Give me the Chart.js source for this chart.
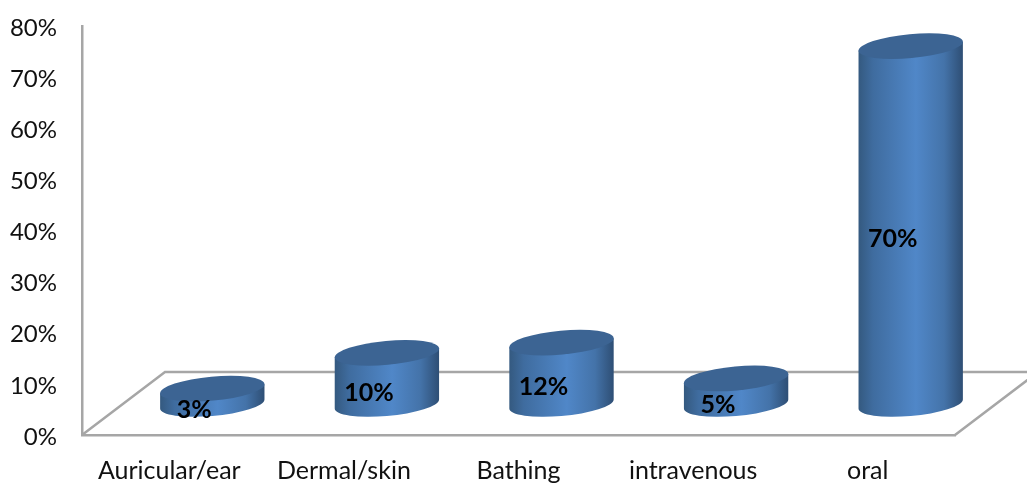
<!DOCTYPE html>
<html>
<head>
<meta charset="utf-8">
<title>Route of administration</title>
<script src="https://cdn.jsdelivr.net/npm/chart.js@4/dist/chart.umd.min.js"></script>
<style>
  html, body { margin: 0; padding: 0; background: #fff; }
  #wrap { width: 1027px; height: 483px; }
</style>
</head>
<body>
<div id="wrap"><canvas id="routes" width="1027" height="483"></canvas></div>
<script>
const categories = ["Auricular/ear", "Dermal/skin", "Bathing", "intravenous", "oral"];
const percentValues = [3, 10, 12, 5, 70];
const yTickStep = 10;
const yMax = 80;

const LINE_GRAY = "#a6a6a6";
const FONT = "Lato, Carlito, sans-serif";

// floor of the fake 3D box, and the bars sit half way back on it
const floorDx = 83, floorDy = 63;
const barDx = 43, barDy = 31;
const tilt = -5.2 * Math.PI / 180;

// ---------- FLOOR LINES ----------
const floorPlugin = {
  id: "floor",
  beforeDatasetsDraw(chart) {
    const ctx = chart.ctx, a = chart.chartArea;
    ctx.save();
    ctx.strokeStyle = LINE_GRAY;
    ctx.lineWidth = 2.5;
    ctx.beginPath();
    ctx.moveTo(a.left, a.bottom);
    ctx.lineTo(a.left + floorDx, a.bottom - floorDy);
    ctx.lineTo(chart.width, a.bottom - floorDy);
    ctx.moveTo(a.right, a.bottom);
    ctx.lineTo(a.right + floorDx, a.bottom - floorDy);
    ctx.stroke();
    ctx.restore();
  }
};

// ---------- CYLINDERS ----------
function drawCylinder(ctx, bar) {
  const cx = bar.x + barDx;
  const topY = bar.y - barDy;
  const baseY = bar.base - barDy;
  const rx = bar.width / 2;
  const ry = 12;
  const t0 = Math.atan(-(ry / rx) * Math.tan(tilt));
  const ex = rx * Math.cos(t0) * Math.cos(tilt) - ry * Math.sin(t0) * Math.sin(tilt);
  const ey = rx * Math.cos(t0) * Math.sin(tilt) + ry * Math.sin(t0) * Math.cos(tilt);

  const grad = ctx.createLinearGradient(cx - rx, 0, cx + rx, 0);
  grad.addColorStop(0, "#34597f");
  grad.addColorStop(0.14, "#3f6c9f");
  grad.addColorStop(0.55, "#5087c8");
  grad.addColorStop(0.82, "#4473a9");
  grad.addColorStop(1, "#2e4e74");

  ctx.beginPath();
  ctx.ellipse(cx, baseY, rx, ry, tilt, t0, t0 + Math.PI);
  ctx.lineTo(cx - ex, topY - ey);
  ctx.lineTo(cx + ex, topY + ey);
  ctx.closePath();
  ctx.fillStyle = grad;
  ctx.fill();

  ctx.beginPath();
  ctx.ellipse(cx, topY, rx, ry, tilt, 0, Math.PI * 2);
  ctx.fillStyle = "#3c6493";
  ctx.fill();
}

const cylinderPlugin = {
  id: "cylinders",
  afterDatasetsDraw(chart) {
    const ctx = chart.ctx;
    const bars = chart.getDatasetMeta(0).data;
    ctx.save();
    bars.forEach((bar) => drawCylinder(ctx, bar));

    // value labels sit left of centre and a bit under the middle
    ctx.fillStyle = "#000";
    ctx.font = "bold 25px " + FONT;
    ctx.textAlign = "center";
    ctx.textBaseline = "middle";
    bars.forEach((bar, i) => {
      const mid = (bar.y + bar.base) / 2 - barDy;
      ctx.fillText(percentValues[i] + "%", bar.x + barDx - 18, mid + 14);
    });
    ctx.restore();
  }
};

new Chart(document.getElementById("routes"), {
  type: "bar",
  data: {
    labels: categories,
    datasets: [{
      data: percentValues,
      backgroundColor: "rgba(0,0,0,0)",
      barPercentage: 0.6,
      categoryPercentage: 1
    }]
  },
  options: {
    responsive: false,
    animation: false,
    layout: { padding: { top: 26, right: 72, left: 0, bottom: 0 } },
    plugins: { legend: { display: false }, tooltip: { enabled: false } },
    scales: {
      x: {
        grid: { display: false, drawTicks: false },
        border: { color: LINE_GRAY, width: 2.5 },
        ticks: { color: "#111", font: { family: FONT, size: 25 }, padding: 21, maxRotation: 0, autoSkip: false },
        afterFit(scale) { scale.height = 48; }
      },
      y: {
        min: 0,
        max: yMax,
        grid: { display: false, drawTicks: false },
        border: { color: LINE_GRAY, width: 2.5 },
        ticks: {
          stepSize: yTickStep,
          color: "#111",
          padding: 25,
          labelOffset: 2,
          font: { family: FONT, size: 24 },
          callback: (v) => v + "%"
        },
        // tick padding otherwise pushes the top of the axis down
        afterFit(scale) { scale.width = 82; scale.paddingTop = 0; }
      }
    }
  },
  plugins: [floorPlugin, cylinderPlugin]
});
</script>
</body>
</html>
